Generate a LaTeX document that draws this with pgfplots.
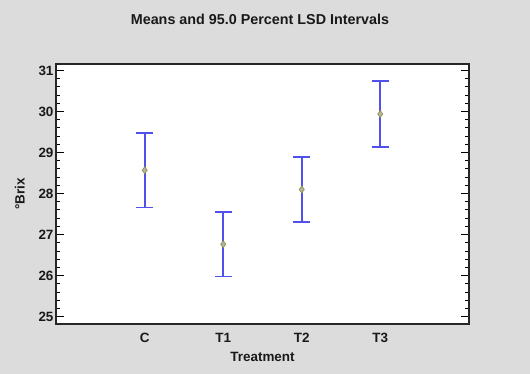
\documentclass[border=0pt]{standalone}
\usepackage{pgfplots}
\pgfplotsset{compat=1.18}
\usepackage{fontspec}
\setmainfont{Liberation Sans}
\definecolor{bg}{HTML}{DCDCDC}
\definecolor{barblue}{RGB}{80,80,235}
\definecolor{mkol}{RGB}{150,150,60}
\begin{document}
\begin{tikzpicture}
\fill[bg] (0,0) rectangle (530bp,374bp);
\useasboundingbox (0,0) rectangle (530bp,374bp);
\node[font=\bfseries\fontsize{14.4}{16}\selectfont, text=black!90] at (260bp,355bp) {Means and 95.0 Percent LSD Intervals};
\begin{axis}[
  at={(56bp,50bp)}, anchor=south west,
  width=413bp, height=260bp, scale only axis,
  axis background/.style={fill=white},
  xmin=-1.13, xmax=4.13,
  ymin=24.82, ymax=31.16,
  xtick={0,1,2,3}, xticklabels={C,T1,T2,T3},
  ytick={25,26,...,31},
  minor y tick num=4,
  x tick style={draw=none},
  tick align=inside,
  major tick length=8bp, minor tick length=4bp,
  y tick style={line width=1pt, black},
  axis line style={line width=1.2pt, black!85},
  tick label style={font=\bfseries\fontsize{13.5}{15}\selectfont, text=black!90},
  /pgf/number format/assume math mode=true,
  xticklabel style={yshift=-6bp},
  yticklabel style={xshift=1bp},
  xlabel={Treatment}, ylabel={°Brix},
  label style={font=\bfseries\fontsize{13.5}{15}\selectfont, text=black!90},
  xlabel style={yshift=-2bp},
  ylabel style={yshift=7bp},
  bar/.style={draw=barblue, line width=1.6pt, mark=-, mark size=8.3bp, mark options={solid, draw=barblue, line width=1.5pt}, forget plot},
]
% LSD intervals (lower, upper)
\addplot[bar] coordinates {(0,27.66) (0,29.48)};
\addplot[bar] coordinates {(1,25.98) (1,27.55)};
\addplot[bar] coordinates {(2,27.31) (2,28.89)};
\addplot[bar] coordinates {(3,29.14) (3,30.74)};
% means
\addplot[only marks, mark=diamond*, mark size=3.4bp,
  mark options={fill=gray!60, draw=mkol, line width=0.7pt}]
  coordinates {(0,28.57) (1,26.765) (2,28.10) (3,29.94)};
\end{axis}
\end{tikzpicture}
\end{document}
